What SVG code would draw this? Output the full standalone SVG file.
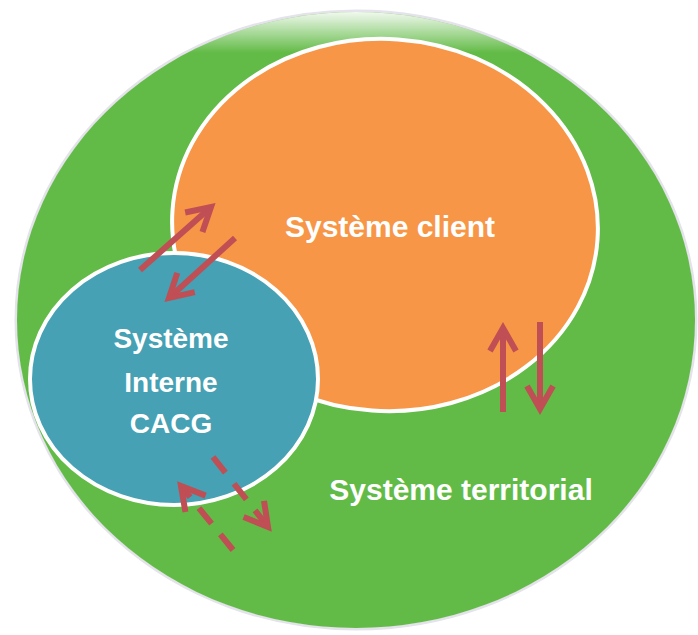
<svg xmlns="http://www.w3.org/2000/svg" width="698" height="635" viewBox="0 0 698 635">
<defs>
<style>
.lbl{font-family:"Liberation Sans",Arial,sans-serif;font-weight:bold;fill:#ffffff;text-anchor:middle}
.arr{stroke:#c04e55;stroke-width:6;fill:none;marker-end:url(#head)}
.dash{stroke-dasharray:20 14}
</style>
<marker id="head" markerUnits="userSpaceOnUse" markerWidth="40" markerHeight="40" viewBox="-30 -20 40 40" refX="0" refY="0" orient="auto" overflow="visible">
<path d="M-23,-13 L0,0 L-23,13" fill="none" stroke="#c04e55" stroke-width="6" stroke-linejoin="miter" stroke-dasharray="none"/>
</marker>
<linearGradient id="fadeTop" x1="0" y1="0" x2="0" y2="1">
<stop offset="0" stop-color="#ffffff" stop-opacity="1"/>
<stop offset="1" stop-color="#ffffff" stop-opacity="0"/>
</linearGradient>
<clipPath id="gclip"><ellipse cx="356" cy="320" rx="339" ry="308"/></clipPath>
</defs>
<rect width="698" height="635" fill="#ffffff"/>
<g id="territorial">
<ellipse cx="356" cy="320" rx="340" ry="309" fill="none" stroke="#e4e2ea" stroke-width="3"/>
<ellipse cx="356" cy="320" rx="339" ry="308" fill="#62bb46"/>
<rect x="0" y="8" width="698" height="45" fill="url(#fadeTop)" clip-path="url(#gclip)"/>
<text class="lbl" x="461" y="500" font-size="30">Système territorial</text>
</g>
<g id="client">
<ellipse cx="385" cy="225" rx="213" ry="186" transform="rotate(4 385 225)" fill="#f79646" stroke="#ffffff" stroke-width="4"/>
<text class="lbl" x="390" y="237" font-size="30">Système client</text>
</g>
<g id="interne">
<ellipse cx="174" cy="379" rx="144" ry="126" fill="#45a1b3" stroke="#ffffff" stroke-width="4"/>
<text class="lbl" x="171" y="348" font-size="28">Système</text>
<text class="lbl" x="171" y="392" font-size="28">Interne</text>
<text class="lbl" x="171" y="433" font-size="28">CACG</text>
</g>
<g id="connectors">
<line class="arr" x1="140" y1="270" x2="211" y2="207"/>
<line class="arr" x1="235" y1="238" x2="169" y2="298"/>
<line class="arr" x1="503" y1="412" x2="503" y2="328"/>
<line class="arr" x1="540" y1="322" x2="540" y2="409"/>
<line class="arr dash" x1="233" y1="550" x2="181" y2="486"/>
<line class="arr dash" x1="213" y1="457" x2="268" y2="527"/>
</g>
</svg>
